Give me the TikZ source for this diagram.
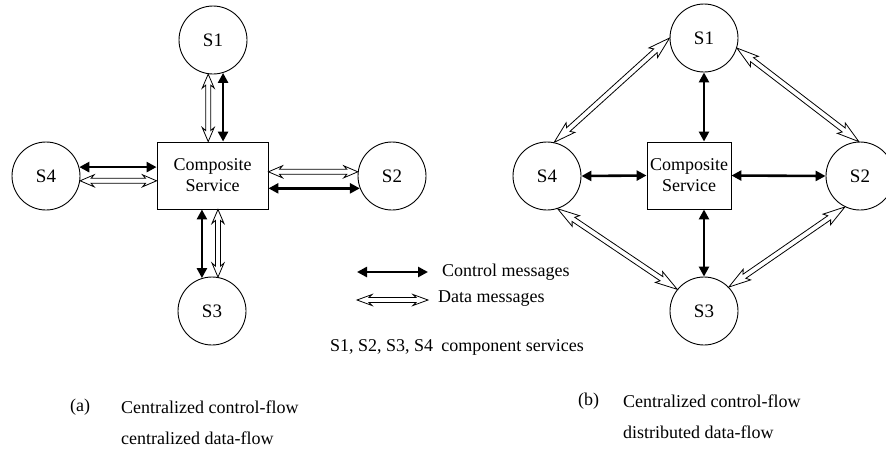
\documentclass[tikz,border=0pt]{standalone}
\usepackage{fontspec}
\setmainfont{Liberation Serif}
\usetikzlibrary{arrows.meta,calc}
\tikzset{
  svc/.style={circle, draw, line width=0.9pt, minimum size=68pt, inner sep=0pt, font=\fontsize{19}{22}\selectfont},
  comp/.style={draw, line width=0.9pt, minimum height=67pt, inner sep=0pt, align=center, font=\fontsize{18}{21}\selectfont},
  ctrl/.style={line width=2.6pt, {Triangle[length=10pt,width=10pt]}-{Triangle[length=10pt,width=10pt]}},
  txt/.style={font=\fontsize{18}{22}\selectfont, inner sep=0pt},
  darr/.style={draw, fill=white, line width=0.8pt, line join=miter}
}
% hollow double-headed block arrow: #1 start, #2 end, #3 head length, #4 head half width
\newcommand\dataarrow[4]{%
  \draw[darr] let \p1=(#1), \p2=(#2), \n1={atan2(\y2-\y1,\x2-\x1)}, \n2={veclen(\x2-\x1,\y2-\y1)} in
   (\p1) -- ($(\p1)+(\n1:#3)+(\n1+90:#4)$) -- ($(\p1)+(\n1:#3-3pt)+(\n1+90:2.5pt)$)
   -- ($(\p1)+(\n1:\n2-#3+3pt)+(\n1+90:2.5pt)$) -- ($(\p1)+(\n1:\n2-#3)+(\n1+90:#4)$) -- (\p2)
   -- ($(\p1)+(\n1:\n2-#3)+(\n1-90:#4)$) -- ($(\p1)+(\n1:\n2-#3+3pt)+(\n1-90:2.5pt)$)
   -- ($(\p1)+(\n1:#3-3pt)+(\n1-90:2.5pt)$) -- ($(\p1)+(\n1:#3)+(\n1-90:#4)$) -- cycle;}
\begin{document}
\begin{tikzpicture}[x=1pt,y=-1pt]
\useasboundingbox[fill=white] (0,0) rectangle (886,451);
% ---------- (a) ----------
\node[svc] (s1a) at (213,40) {S1};
\node[svc] (s2a) at (392,176) {S2};
\node[svc] (s3a) at (212,311) {S3};
\node[svc] (s4a) at (46,176) {S4};
\node[comp, minimum width=111pt] (boxa) at (212.5,175.5) {Composite\\Service};
\draw[ctrl] (s1a.-73) -- (s1a.-73 |- boxa.north);
\dataarrow{s1a.-98}{s1a.-98 |- boxa.north}{14pt}{6pt}
\draw[ctrl] (s4a.15) -- (s4a.15 -| boxa.west);
\dataarrow{s4a.-8}{s4a.-8 -| boxa.west}{14pt}{6pt}
\dataarrow{boxa.east |- s2a.173}{s2a.173}{14pt}{6pt}
\draw[ctrl] (boxa.east |- s2a.-159) -- (s2a.-159);
\draw[ctrl] (boxa.south -| s3a.107) -- (s3a.107);
\dataarrow{boxa.south -| s3a.80}{s3a.80}{14pt}{6pt}
% ---------- (b) ----------
\node[svc] (s1b) at (704,38) {S1};
\node[svc] (s2b) at (860,176) {S2};
\node[svc] (s3b) at (704,311) {S3};
\node[svc] (s4b) at (547,176) {S4};
\node[comp, minimum width=84pt] (boxb) at (689,175.5) {Composite\\Service};
\draw[ctrl] (s1b.south) -- (s1b.south |- boxb.north);
\draw[ctrl] (s4b.east) -- (boxb.west);
\draw[ctrl] (boxb.east) -- (s2b.west);
\draw[ctrl] (boxb.south -| s3b.north) -- (s3b.north);
\dataarrow{s4b.78}{s1b.180}{22pt}{6.5pt}
\dataarrow{s1b.-17}{s2b.92}{22pt}{6.5pt}
\dataarrow{s4b.-72}{s3b.141}{22pt}{6.5pt}
\dataarrow{s3b.44}{s2b.-116}{22pt}{6.5pt}
% ---------- legend ----------
\coordinate (lc1) at (357,272);
\coordinate (lc2) at (428,272);
\draw[ctrl] (lc1) -- (lc2);
\coordinate (ld1) at (357,300);
\coordinate (ld2) at (428,300);
\dataarrow{ld1}{ld2}{15pt}{5.5pt}
\node[txt, anchor=west] (lct) at (442,272) {Control messages};
\node[txt, anchor=west] (ldt) at (438,299) {Data messages};
\node[txt, anchor=east] (lst) at (584,347) {S1, S2, S3, S4\hspace{0.45em}component services};
% ---------- captions ----------
\node[txt, anchor=west] (capa) at (70,407) {(a)};
\node[txt, anchor=west] (capa1) at (121,407) {Centralized control-flow};
\node[txt, anchor=west] (capa2) at (121,438) {centralized data-flow};
\node[txt, anchor=west] (capb) at (578,401) {(b)};
\node[txt, anchor=west] (capb1) at (623,401) {Centralized control-flow};
\node[txt, anchor=west] (capb2) at (623,432) {distributed data-flow};
\end{tikzpicture}
\end{document}
